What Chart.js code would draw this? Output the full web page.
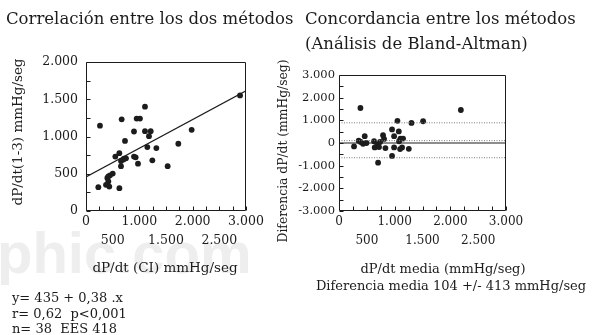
<!DOCTYPE html>
<html>
<head>
<meta charset="utf-8">
<script src="https://cdn.jsdelivr.net/npm/chart.js@4.4.1/dist/chart.umd.min.js"></script>
<style>
  html, body { margin: 0; padding: 0; background: #fff; }
  #wrap { position: relative; width: 592px; height: 335px; overflow: hidden; background: #fff; }
  canvas { position: absolute; left: 0; top: 0; }
  .t { position: absolute; white-space: nowrap; font-family: 'DejaVu Serif', serif; color: #1c1c1c; line-height: 1; }
  .r { position: absolute; white-space: nowrap; font-family: 'DejaVu Serif', serif; color: #1c1c1c; text-align: center; transform-origin: 50% 50%; transform: rotate(-90deg); }
  .wm { position: absolute; white-space: nowrap; font-family: 'Liberation Sans', Arial, sans-serif; font-weight: bold; color: #eeeeee; line-height: 1; }
</style>
</head>
<body>
<div id="wrap">
  <div class="wm" style="left:-3px; top:224px; font-size:58px;">phic.com</div>
  <canvas id="c1" width="592" height="335"></canvas>
  <canvas id="c2" width="592" height="335"></canvas>

  <div class="t" style="left:6px; top:19px; transform:translateY(-50%); font-size:16.5px;">Correlación entre los dos métodos</div>
  <div class="t" style="left:305px; top:19px; transform:translateY(-50%); font-size:16.5px;">Concordancia entre los métodos</div>
  <div class="t" style="left:305px; top:44px; transform:translateY(-50%); font-size:16.5px;">(Análisis de Bland-Altman)</div>

  <div class="r" style="left:-73px; top:124px; width:180px; height:16px; line-height:16px; font-size:13.5px;">dP/dt(1-3) mmHg/seg</div>
  <div class="t" style="left:165px; top:268px; transform:translate(-50%,-50%); font-size:13.5px;">dP/dt (CI) mmHg/seg</div>

  <div class="r" style="left:173px; top:144px; width:220px; height:14px; line-height:14px; font-size:12.3px;">Diferencia dP/dt (mmHg/seg)</div>
  <div class="t" style="left:443px; top:268px; transform:translate(-50%,-50%); font-size:13px;">dP/dt media (mmHg/seg)</div>
  <div class="t" style="left:451px; top:285px; transform:translate(-50%,-50%); font-size:13px;">Diferencia media 104 +/- 413 mmHg/seg</div>

  <div class="t" style="left:12px; top:297px; transform:translateY(-50%); font-size:13px;">y= 435 + 0,38 .x</div>
  <div class="t" style="left:12px; top:313px; transform:translateY(-50%); font-size:13px;">r= 0,62&nbsp; p&lt;0,001</div>
  <div class="t" style="left:12px; top:328px; transform:translateY(-50%); font-size:13px;">n= 38&nbsp; EES 418</div>
</div>
<script>
// ---- Data ----
const corrX = [262,1106,669,950,1012,900,1106,1213,1181,731,1150,1319,1731,1981,2888,
               625,550,656,712,750,656,900,931,975,1244,1531,
               231,375,437,400,419,450,501,419,626,700];
const corrY = [1145,1401,1231,1241,1241,1067,1072,1072,1004,940,858,844,903,1090,1551,
               776,730,670,703,707,602,730,721,635,680,602,
               320,352,328,443,465,479,502,397,306,690];
const fitX = [0, 3000];
const fitY = [457, 1614];

const baMean = [385,270,354,390,432,462,493,630,642,690,719,702,738,791,809,834,
                953,953,990,990,1050,1074,1079,1097,1104,1133,1151,1254,1302,1511,2189];
const baDiff = [1545,-149,104,45,-32,302,0,77,-194,-77,-180,-869,45,347,180,-225,
                599,-572,302,-194,977,509,77,-270,194,-194,194,-257,887,959,1455];
const baZero = 0;
const baLimits = [890, 104, -650];

const xTickLabels = ['0','500','1.000','1.500','2.000','2.500','3.000'];
const corrYTickLabels = ['0','500','1.000','1.500','2.000'];
const diffYTickLabels = ['-3.000','-2.000','-1.000','0','1.000','2.000','3.000'];
const xMarks = [0,250,500,750,1000,1250,1500,1750,2000,2250,2500,2750,3000];
const corrYMarks = [0,250,500,750,1000,1250,1500,1750,2000];
const diffYMarks = [-3000,-2500,-2000,-1500,-1000,-500,0,500,1000,1500,2000,2500,3000];

// ---- helpers ----
const INK = '#1c1c1c';
const pts = (xs, ys) => xs.map((x, i) => ({x, y: ys[i]}));

const frameTicks = {
  id: 'frameTicks',
  afterDatasetsDraw(chart, args, opts) {
    const {ctx, chartArea: a, scales} = chart;
    const L = Math.round(a.left) + 0.5, R = Math.round(a.right) - 0.5;
    const T = Math.round(a.top) + 0.5, B = Math.round(a.bottom) - 0.5;
    ctx.save();
    ctx.strokeStyle = INK; ctx.lineWidth = 1;
    ctx.beginPath();
    ctx.rect(L, T, R - L, B - T);
    opts.xMarks.forEach(v => {
      const px = Math.round(scales.x.getPixelForValue(v)) + 0.5;
      ctx.moveTo(px, B); ctx.lineTo(px, B - 4);
    });
    opts.yMarks.forEach(v => {
      const py = Math.round(scales.y.getPixelForValue(v)) + 0.5;
      ctx.moveTo(L, py); ctx.lineTo(L + 4, py);
    });
    ctx.stroke();
    ctx.restore();
  }
};

function xAxis(size) {
  return {
    type: 'linear', min: 0, max: 3000,
    grid: { display: false, drawTicks: false },
    border: { display: false },
    afterFit(s) { s.height = 40; },
    ticks: {
      stepSize: 500, autoSkip: false, maxRotation: 0, minRotation: 0, padding: 1,
      color: INK,
      font: { family: 'DejaVu Serif', size: size, lineHeight: '19px' },
      callback: (v, i) => (i % 2 === 0 ? xTickLabels[i] : ['', xTickLabels[i]])
    }
  };
}

Chart.defaults.animation = false;

// ---- Chart 1: correlation ----
new Chart(document.getElementById('c1'), {
  type: 'scatter',
  data: {
    datasets: [
      { data: pts(corrX, corrY), pointRadius: 2.9, pointBackgroundColor: INK, pointBorderWidth: 0, showLine: false },
      { data: pts(fitX, fitY), showLine: true, pointRadius: 0, borderColor: INK, borderWidth: 1.1 }
    ]
  },
  options: {
    responsive: false, devicePixelRatio: 1, events: [],
    layout: { padding: { left: 0, top: 62, right: 346, bottom: 84 } },
    plugins: { legend: { display: false }, tooltip: { enabled: false },
               frameTicks: { xMarks: xMarks, yMarks: corrYMarks } },
    scales: {
      x: xAxis(12.5),
      y: {
        type: 'linear', min: 0, max: 2000,
        grid: { display: false, drawTicks: false },
        border: { display: false },
        afterFit(s) { s.width = 86; },
        ticks: {
          stepSize: 500, padding: 8, color: INK,
          font: { family: 'DejaVu Serif', size: 12.5 },
          callback: (v, i) => corrYTickLabels[i]
        }
      }
    }
  },
  plugins: [frameTicks]
});

// ---- Chart 2: Bland-Altman ----
const limitSets = baLimits.map(l => ({
  data: [{x: 0, y: l}, {x: 3000, y: l}], showLine: true, pointRadius: 0,
  borderColor: '#7a7a7a', borderWidth: 1, borderDash: [1, 1.5]
}));
new Chart(document.getElementById('c2'), {
  type: 'scatter',
  data: {
    datasets: [
      ...limitSets,
      { data: [{x: 0, y: baZero}, {x: 3000, y: baZero}], showLine: true, pointRadius: 0, borderColor: INK, borderWidth: 1.2 },
      { data: pts(baMean, baDiff), pointRadius: 2.9, pointBackgroundColor: INK, pointBorderWidth: 0, showLine: false }
    ]
  },
  options: {
    responsive: false, devicePixelRatio: 1, events: [],
    layout: { padding: { left: 0, top: 75, right: 86, bottom: 84 } },
    plugins: { legend: { display: false }, tooltip: { enabled: false },
               frameTicks: { xMarks: xMarks, yMarks: diffYMarks } },
    scales: {
      x: xAxis(12),
      y: {
        type: 'linear', min: -3000, max: 3000,
        grid: { display: false, drawTicks: false },
        border: { display: false },
        afterFit(s) { s.width = 339; },
        ticks: {
          stepSize: 1000, padding: 4, color: INK,
          font: { family: 'DejaVu Serif', size: 11.5 },
          callback: (v, i) => diffYTickLabels[i]
        }
      }
    }
  },
  plugins: [frameTicks]
});
</script>
</body>
</html>
